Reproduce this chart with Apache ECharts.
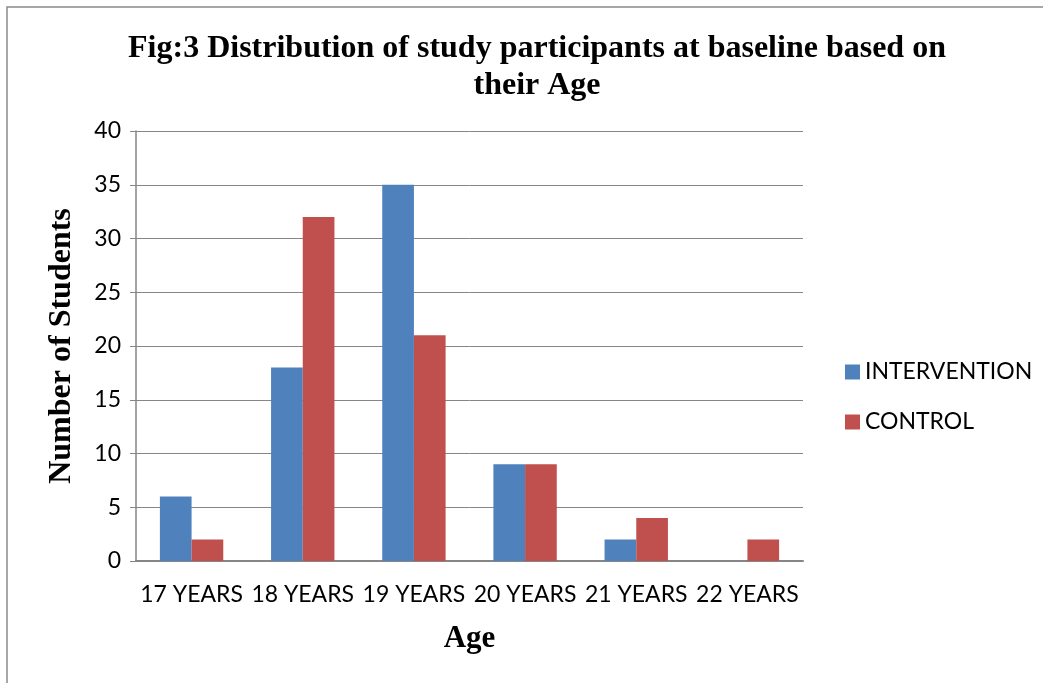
<!DOCTYPE html>
<html>
<head>
<meta charset="utf-8">
<script src="https://cdn.jsdelivr.net/npm/echarts@6/dist/echarts.min.js"></script>
<style>
  html, body { margin: 0; padding: 0; background: #ffffff; }
  #chart { width: 1043px; height: 683px; }
</style>
</head>
<body>
<div id="chart"></div>
<script>
// Age groups on the x axis
const ageGroups = ['17 YEARS', '18 YEARS', '19 YEARS', '20 YEARS', '21 YEARS', '22 YEARS'];
// Number of students per age group in each study arm
const interventionCounts = [6, 18, 35, 9, 2, 0];
const controlCounts = [2, 32, 21, 9, 4, 2];
const seriesNames = ['INTERVENTION', 'CONTROL'];

const chart = echarts.init(document.getElementById('chart'));

const serif = '"Liberation Serif", "Times New Roman", serif';
const sans = 'Lato, "Open Sans", sans-serif';
const gridGray = '#868686';

chart.setOption({
  backgroundColor: '#ffffff',
  animation: false,
  title: {
    text: 'Fig:3 Distribution of study participants at baseline based on\ntheir Age',
    left: 532,
    top: 25,
    textAlign: 'center',
    textStyle: {
      fontFamily: serif,
      fontWeight: 'bold',
      fontSize: 32,
      lineHeight: 37,
      color: '#000000'
    }
  },
  legend: {
    orient: 'vertical',
    left: 840,
    top: 355,
    padding: 5,
    itemWidth: 15,
    itemHeight: 15,
    itemGap: 26,
    icon: 'rect',
    data: seriesNames,
    textStyle: {
      fontFamily: sans,
      fontSize: 23,
      lineHeight: 24,
      color: '#000000'
    }
  },
  grid: {
    left: 136,
    right: 240,
    top: 131,
    bottom: 122,
    containLabel: false
  },
  xAxis: {
    type: 'category',
    data: ageGroups,
    name: 'Age',
    nameLocation: 'middle',
    nameGap: 62,
    nameTextStyle: {
      fontFamily: serif,
      fontWeight: 'bold',
      fontSize: 31,
      color: '#000000'
    },
    axisLine: { show: true, lineStyle: { color: gridGray, width: 2 } },
    axisTick: { show: false },
    axisLabel: {
      fontFamily: sans,
      fontSize: 23,
      color: '#000000',
      margin: 22,
      interval: 0
    }
  },
  yAxis: {
    type: 'value',
    min: 0,
    max: 40,
    interval: 5,
    name: 'Number of Students',
    nameLocation: 'middle',
    nameRotate: 90,
    nameGap: 58,
    nameTextStyle: {
      fontFamily: serif,
      fontWeight: 'bold',
      fontSize: 32,
      color: '#000000'
    },
    axisLine: { show: true, lineStyle: { color: gridGray, width: 1.5 } },
    axisTick: { show: true, length: 6, lineStyle: { color: gridGray, width: 1 } },
    axisLabel: {
      fontFamily: sans,
      fontSize: 23,
      color: '#000000',
      margin: 15
    },
    splitLine: { show: true, lineStyle: { color: gridGray, width: 1 } }
  },
  series: [
    {
      name: seriesNames[0],
      type: 'bar',
      data: interventionCounts,
      barGap: '0%',
      barCategoryGap: '43%',
      itemStyle: { color: '#4F81BD' }
    },
    {
      name: seriesNames[1],
      type: 'bar',
      data: controlCounts,
      barGap: '0%',
      barCategoryGap: '43%',
      itemStyle: { color: '#C0504D' }
    }
  ],
  graphic: [
    {
      // page frame along the top and left edges
      type: 'polyline',
      silent: true,
      shape: { points: [[7, 700], [7, 7], [1060, 7]] },
      style: { stroke: '#8a8a8a', lineWidth: 1.5, fill: null }
    }
  ]
});
</script>
</body>
</html>
